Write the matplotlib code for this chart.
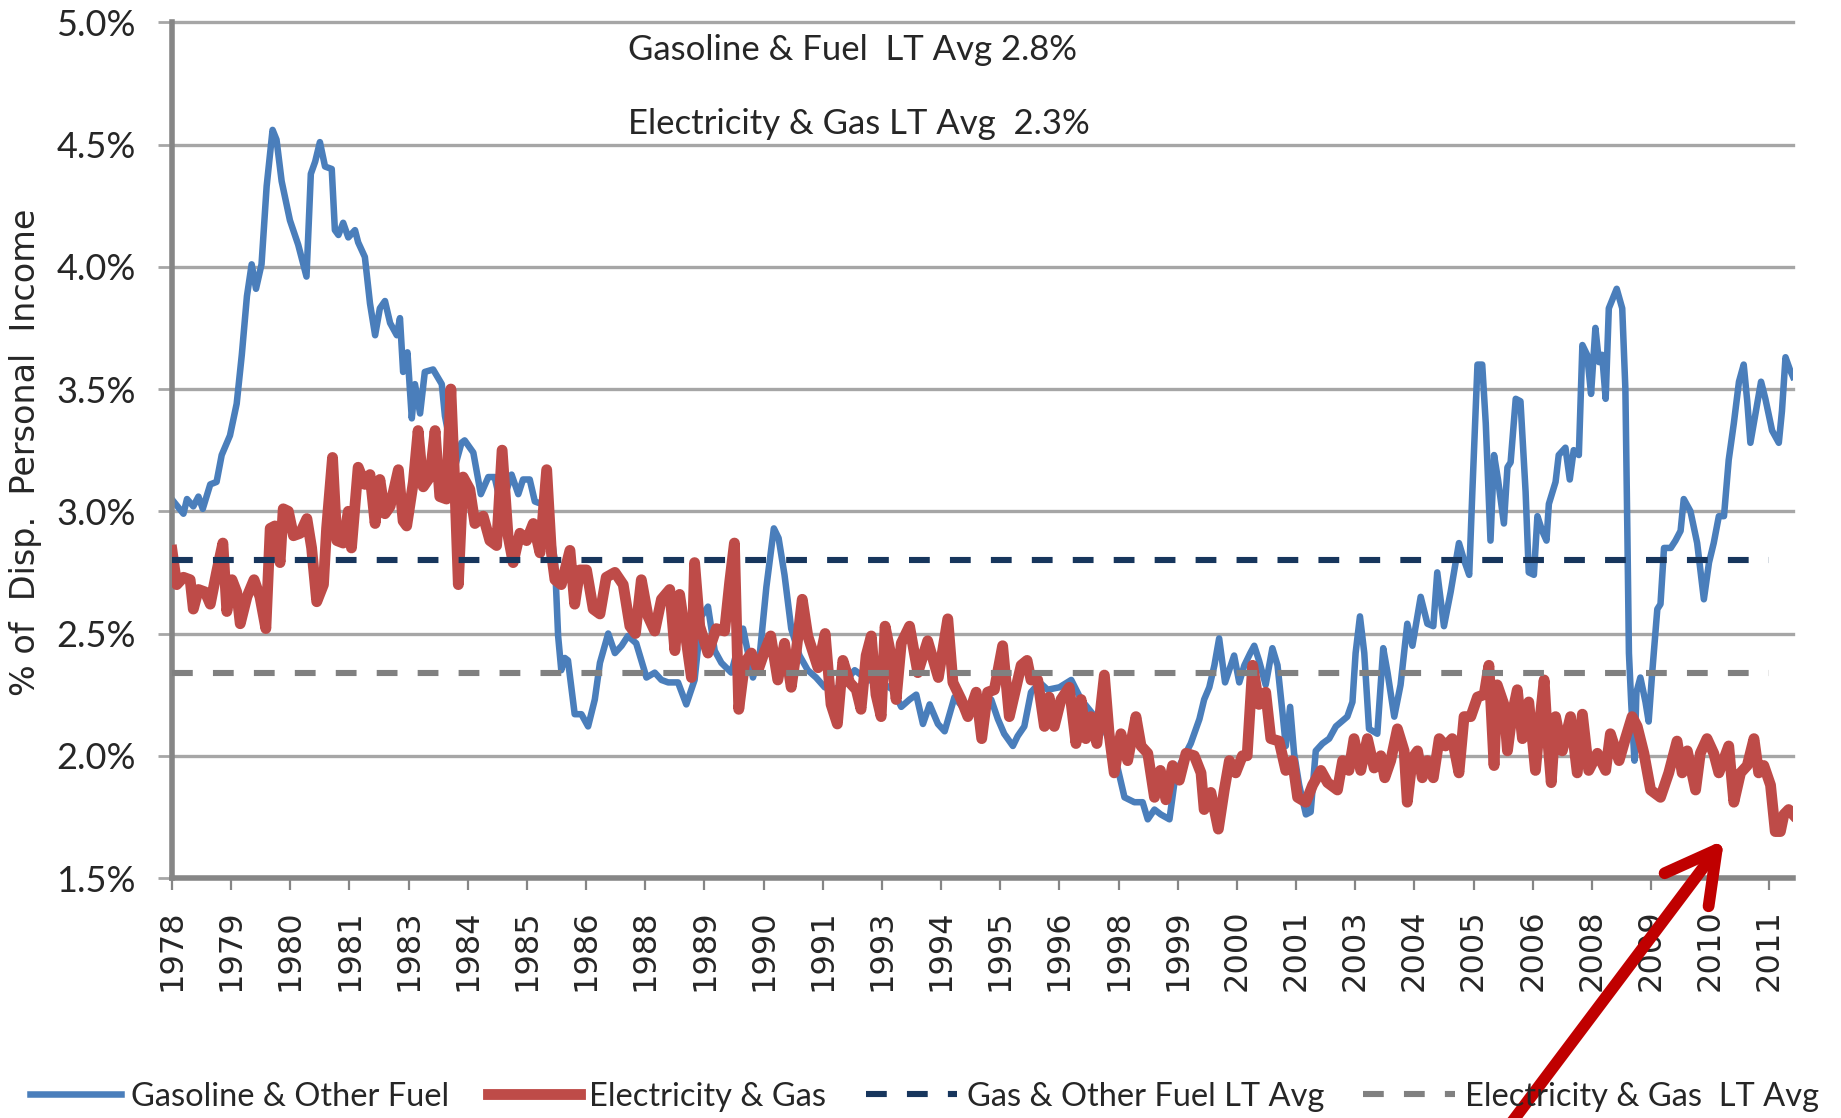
import matplotlib
matplotlib.use("Agg")
import matplotlib.pyplot as plt
from matplotlib.lines import Line2D
import numpy as np

# ---------------- data (months since Jan 1978, % of disposable personal income) -------------
gas_month = [0.4, 2.9, 3.8, 5.4, 6.7, 7.8, 9.7, 11.3, 12.6, 14.7, 16.4, 17.7, 19, 20.2, 21.3, 22.7,
             24, 25.5, 26.5, 27.8, 29.9, 32, 34.1, 35.2, 36.3, 37.5, 38.8, 40.5, 41.3, 42.2, 43.4,
             44.7, 46.4, 47.2, 48.9, 50.2, 51.5, 52.7, 54, 55.3, 57, 57.8, 58.6, 59.7, 60.8, 61.6,
             62.9, 64.1, 66.2, 68.4, 69.2, 71.7, 73.4, 74.2, 76.4, 78.3, 80.2, 81.8, 83.5, 86.1,
             87.8, 89, 90.7, 92, 93.7, 95.8, 97.1, 97.9, 98.7, 99.6, 100.4, 102.1, 103.8, 105.5,
             107.2, 108.5, 110.6, 112.3, 114, 115.6, 117.7, 119, 120.3, 122.4, 124.1, 125.8, 128.3,
             130.4, 132.5, 134.2, 135.9, 137.6, 139.3, 141.8, 144.8, 147.3, 149, 150.7, 152.6,
             153.8, 155.3, 157, 159.1, 161.2, 163.3, 165.5, 168, 170.5, 173.1, 176.4, 179.8, 182.8,
             184.9, 187, 188.7, 190.4, 192.1, 194.2, 195.9, 198.4, 200.9, 203.5, 205.1, 207.7,
             209.4, 211, 213.2, 214.4, 216.1, 217.8, 220, 222, 225, 228, 230.5, 233, 236.4, 238.9,
             241.5, 244, 246.1, 247.4, 249.1, 250.7, 252.9, 254.5, 256.7, 258.3, 260.5, 261.7, 263,
             264.3, 265.5, 267, 269.3, 270.6, 271.9, 273.4, 274.4, 275.6, 277.3, 279, 280.3, 281.6,
             282.4, 283.5, 284.5, 285.8, 287.5, 288.7, 290, 291.7, 293.4, 295.1, 298, 299.3, 300.1,
             301.2, 302.3, 303.5, 305.6, 307.1, 308.2, 309.9, 311.5, 313.2, 314.5, 316.6, 318.3,
             319.8, 320.8, 322.5, 324.2, 326.3, 327.6, 328.9, 329.7, 331, 332.2, 333.1, 334.3,
             335.2, 336.2, 337.7, 338.6, 339.4, 340.7, 341.9, 343.2, 344, 345.3, 346.2, 347.4,
             348.5, 349.1, 350.8, 351.6, 353.3, 354.4, 355.4, 356.7, 357.6, 358.8, 359.8, 360.9,
             361.8, 362.6, 363.5, 364.3, 366.3, 367.7, 368.5, 369, 369.4, 370, 370.8, 371.3, 372.3,
             373.6, 374.4, 375.3, 376.6, 377.4, 378.3, 380, 381.2, 382.5, 383.3, 385, 386.7, 388.4,
             389.7, 390.9, 392.2, 393.5, 394.7, 396, 397.3, 398.5, 399.4, 400.2, 401.5, 402.9, 404,
             405.7, 407.4, 408.2, 409.1, 410.2, 411]
gas_pct = [3.04, 2.99, 3.05, 3.02, 3.06, 3.01, 3.11, 3.12, 3.23, 3.31, 3.44, 3.64, 3.88, 4.01, 3.91,
           4.01, 4.33, 4.56, 4.52, 4.35, 4.19, 4.09, 3.96, 4.38, 4.43, 4.51, 4.41, 4.40, 4.15, 4.13,
           4.18, 4.12, 4.15, 4.10, 4.04, 3.85, 3.72, 3.83, 3.86, 3.77, 3.72, 3.79, 3.57, 3.65, 3.38,
           3.52, 3.40, 3.57, 3.58, 3.52, 3.39, 3.18, 3.28, 3.29, 3.24, 3.07, 3.14, 3.14, 3.02, 3.15,
           3.07, 3.13, 3.13, 3.04, 3.03, 2.95, 2.79, 2.49, 2.35, 2.40, 2.39, 2.17, 2.17, 2.12, 2.23,
           2.38, 2.50, 2.42, 2.45, 2.49, 2.46, 2.39, 2.32, 2.34, 2.31, 2.30, 2.30, 2.21, 2.31, 2.57,
           2.61, 2.43, 2.38, 2.34, 2.52, 2.32, 2.41, 2.69, 2.93, 2.89, 2.74, 2.52, 2.41, 2.35, 2.32,
           2.28, 2.27, 2.30, 2.35, 2.31, 2.30, 2.27, 2.20, 2.23, 2.25, 2.13, 2.21, 2.13, 2.10, 2.24,
           2.19, 2.20, 2.24, 2.23, 2.15, 2.09, 2.04, 2.08, 2.12, 2.26, 2.30, 2.27, 2.28, 2.31, 2.23,
           2.18, 2.11, 2.01, 1.83, 1.81, 1.81, 1.74, 1.78, 1.76, 1.74, 1.93, 2.00, 2.05, 2.15, 2.23,
           2.28, 2.37, 2.48, 2.30, 2.41, 2.30, 2.37, 2.42, 2.45, 2.39, 2.29, 2.44, 2.37, 2.17, 2.04,
           2.20, 2.01, 1.88, 1.76, 1.77, 2.02, 2.05, 2.07, 2.12, 2.16, 2.22, 2.42, 2.57, 2.42, 2.11,
           2.09, 2.44, 2.34, 2.16, 2.29, 2.54, 2.45, 2.65, 2.54, 2.53, 2.75, 2.53, 2.67, 2.87, 2.80,
           2.74, 3.08, 3.60, 3.60, 3.36, 2.88, 3.23, 3.13, 2.95, 3.18, 3.20, 3.46, 3.45, 3.08, 2.75,
           2.74, 2.98, 2.92, 2.88, 3.03, 3.12, 3.23, 3.26, 3.13, 3.25, 3.23, 3.68, 3.64, 3.48, 3.75,
           3.61, 3.64, 3.46, 3.83, 3.91, 3.83, 3.50, 2.92, 2.42, 2.21, 1.98, 2.26, 2.32, 2.22, 2.14,
           2.34, 2.60, 2.62, 2.85, 2.85, 2.88, 2.92, 3.05, 3.00, 2.87, 2.64, 2.79, 2.87, 2.98, 2.98,
           3.21, 3.36, 3.53, 3.60, 3.45, 3.28, 3.40, 3.53, 3.46, 3.33, 3.28, 3.41, 3.63, 3.58, 3.55]

elec_month = [0, 1.2, 2.9, 4.6, 5.4, 6.7, 8.4, 9.7, 11.3, 12.9, 13.9, 15.2, 16.4, 17.3, 19, 20.8,
              22.3, 23.8, 24.9, 26.1, 27.4, 28.2, 29.5, 30.8, 32.5, 34.2, 35.4, 36.7, 38.4, 39.2,
              40.7, 41.8, 43.4, 44.7, 45.5, 47.2, 48.9, 50.2, 51.5, 52.7, 54, 55.3, 57.4, 58.6,
              59.5, 61.2, 62.4, 63.7, 65.4, 66.7, 67.9, 69.6, 70.7, 71.7, 72.6, 73.8, 75.5, 76.8,
              78.9, 80.6, 82.3, 83.7, 85.2, 86.5, 88.2, 89.9, 91.6, 93.3, 95, 96.2, 97.1, 98.7,
              100.9, 102.1, 103.4, 105.1, 106.8, 108.5, 110.1, 112.3, 114.4, 116.1, 117.5, 119,
              120.7, 122.4, 124.1, 126.2, 127.5, 128.7, 130.4, 131.7, 132.5, 133.8, 135.9, 138,
              140.1, 141.4, 142.6, 143.7, 145.2, 146.9, 148.6, 150.1, 151.8, 153.6, 155.3, 157,
              158.3, 159.8, 161.2, 163.8, 165.6, 167.1, 168.7, 170.1, 171.8, 173.5, 174.7, 176,
              177.3, 178.5, 179.8, 180.8, 182.3, 183.6, 184.9, 187, 189.1, 191.6, 194.3, 196.7, 198,
              200.1, 201.8, 203.9, 205.3, 206.8, 208.5, 210.6, 212.3, 214, 215.3, 216.8, 217.8,
              219.5, 221.2, 222.4, 223.7, 225.4, 227.5, 229.2, 230.5, 231.7, 233, 234.5, 236.4,
              237.6, 238.9, 240.6, 242.3, 244.4, 245.7, 247.4, 249.1, 250.6, 252, 253.7, 255.4,
              257.1, 259.2, 260.9, 261.7, 263.4, 265.3, 266.8, 268.1, 269.7, 271.4, 272.6, 274,
              275.6, 277.3, 278.6, 280.7, 282.4, 284.1, 285.4, 287.5, 289.2, 291.3, 293, 295.5,
              296.8, 298.4, 299.7, 301.4, 303.1, 304.8, 306.5, 307.5, 309, 310.7, 312.4, 313.2,
              314.5, 315.8, 317, 318.3, 319.8, 321.3, 322.9, 324.6, 326.3, 327.6, 329.3, 331, 332.7,
              333.9, 335.2, 336, 337.7, 338.6, 339.8, 341.1, 342.4, 344, 345.7, 347, 347.9, 348.7,
              349.7, 350.8, 352.5, 354.6, 356.3, 357.6, 359.2, 361.4, 363.5, 364.7, 366.9, 368.5,
              370.2, 371.5, 373.2, 374.9, 377.4, 379.5, 381.6, 382.9, 384.2, 386.3, 387.5, 389.2,
              390.9, 392.2, 394.7, 396, 397.7, 399.4, 401.1, 402.3, 403.6, 405.3, 406.5, 407.8,
              408.7, 409.9, 411]
elec_pct = [2.84, 2.70, 2.73, 2.72, 2.60, 2.68, 2.67, 2.62, 2.75, 2.87, 2.59, 2.72, 2.67, 2.54, 2.65,
            2.72, 2.65, 2.52, 2.93, 2.94, 2.79, 3.01, 3.00, 2.90, 2.91, 2.97, 2.85, 2.63, 2.70, 2.93,
            3.22, 2.88, 2.87, 3.00, 2.85, 3.18, 3.11, 3.15, 2.95, 3.13, 2.99, 3.02, 3.17, 2.96, 2.94,
            3.12, 3.33, 3.10, 3.14, 3.33, 3.06, 3.05, 3.50, 3.11, 2.70, 3.14, 3.09, 2.95, 2.98, 2.88,
            2.86, 3.25, 2.90, 2.79, 2.91, 2.88, 2.95, 2.83, 3.17, 2.83, 2.72, 2.70, 2.84, 2.62, 2.76,
            2.76, 2.60, 2.58, 2.73, 2.75, 2.70, 2.53, 2.50, 2.72, 2.57, 2.51, 2.64, 2.68, 2.43, 2.66,
            2.47, 2.32, 2.79, 2.53, 2.42, 2.52, 2.51, 2.71, 2.87, 2.19, 2.38, 2.42, 2.35, 2.42, 2.49,
            2.31, 2.46, 2.28, 2.43, 2.64, 2.49, 2.36, 2.50, 2.21, 2.13, 2.39, 2.30, 2.27, 2.19, 2.41,
            2.49, 2.25, 2.16, 2.53, 2.41, 2.23, 2.46, 2.53, 2.34, 2.47, 2.32, 2.56, 2.30, 2.23, 2.16,
            2.26, 2.07, 2.26, 2.27, 2.45, 2.16, 2.28, 2.37, 2.39, 2.31, 2.31, 2.12, 2.24, 2.12, 2.23,
            2.28, 2.05, 2.23, 2.07, 2.16, 2.05, 2.33, 2.09, 1.93, 2.09, 1.98, 2.16, 2.04, 2.01, 1.83,
            1.94, 1.82, 1.96, 1.90, 2.01, 2.00, 1.93, 1.78, 1.85, 1.70, 1.86, 1.98, 1.93, 2.00, 2.00,
            2.37, 2.21, 2.26, 2.07, 2.06, 1.94, 1.98, 1.83, 1.81, 1.88, 1.94, 1.89, 1.86, 1.98, 1.94,
            2.07, 1.94, 2.07, 1.95, 2.00, 1.91, 1.98, 2.11, 2.02, 1.81, 1.99, 2.02, 1.91, 1.98, 1.91,
            2.07, 2.04, 2.07, 1.93, 2.16, 2.16, 2.24, 2.25, 2.37, 1.96, 2.29, 2.21, 2.02, 2.17, 2.27,
            2.07, 2.22, 1.94, 2.17, 2.31, 2.09, 1.89, 2.16, 2.02, 2.16, 1.93, 2.17, 1.94, 2.01, 1.94,
            2.09, 1.98, 2.07, 2.16, 2.12, 2.01, 1.86, 1.83, 1.93, 2.06, 1.93, 2.02, 1.86, 2.01, 2.07,
            2.01, 1.93, 2.04, 1.81, 1.93, 1.96, 2.07, 1.93, 1.96, 1.88, 1.69, 1.69, 1.76, 1.78, 1.76]

gas_lt_avg = 2.80
elec_lt_avg = 2.34
avg_span = [0, 405]          # months covered by the long-term average series

tick_months = list(range(0, 406, 15))
tick_labels = ["1978", "1979", "1980", "1981", "1983", "1984", "1985", "1986", "1988", "1989",
               "1990", "1991", "1993", "1994", "1995", "1996", "1998", "1999", "2000", "2001",
               "2003", "2004", "2005", "2006", "2008", "2009", "2010", "2011"]
y_ticks = [1.5, 2.0, 2.5, 3.0, 3.5, 4.0, 4.5, 5.0]

series_labels = ["Gasoline & Other Fuel", "Electricity & Gas",
                 "Gas & Other Fuel LT Avg", "Electricity & Gas  LT Avg"]
note_lines = ["Gasoline & Fuel  LT Avg 2.8%", "Electricity & Gas LT Avg  2.3%"]
y_title = "% of  Disp.  Personal  Income"

# ---------------- styling ----------------
BLUE = "#4A7EBB"
RED = "#BE4B48"
NAVY = "#17365D"
GREY_DASH = "#808080"
GRID = "#A6A6A6"
AXIS = "#868686"
TXT = "#262626"
NARROW = ["Lato", "DejaVu Sans"]
WIDE = ["DejaVu Sans"]

W, H = 1841, 1118
fig = plt.figure(figsize=(W / 100, H / 100), dpi=100)
L, R, T, B = 172, 1793, 22.3, 878
ax = fig.add_axes([L / W, 1 - B / H, (R - L) / W, (B - T) / H])

ax.set_xlim(0, 411)
ax.set_ylim(1.5, 5.0)

for v in y_ticks[1:]:
    ax.axhline(v, color=GRID, lw=2.4, zorder=0, clip_on=False)

BLUE_LW, RED_LW, DASH_LW = 4.7, 7.8, 4.4
ax.plot(gas_month, gas_pct, color=BLUE, lw=BLUE_LW, solid_joinstyle="round", zorder=2)
ax.plot(elec_month, elec_pct, color=RED, lw=RED_LW, solid_joinstyle="round", zorder=3)
ax.plot(avg_span, [gas_lt_avg, gas_lt_avg], color=NAVY, lw=DASH_LW, dashes=(3.4, 3.3),
        dash_capstyle="butt", zorder=4)
ax.plot(avg_span, [elec_lt_avg, elec_lt_avg], color=GREY_DASH, lw=DASH_LW, dashes=(3.4, 3.3),
        dash_capstyle="butt", zorder=4)

for s in ["top", "right"]:
    ax.spines[s].set_visible(False)
for s in ["left", "bottom"]:
    ax.spines[s].set_color(AXIS)
    ax.spines[s].set_linewidth(4.0)

ax.set_yticks(y_ticks)
ax.set_yticklabels([f"{v:.1f}%" for v in y_ticks])
ax.set_xticks(tick_months)
ax.set_xticklabels(tick_labels, rotation=90)
ax.tick_params(axis="y", direction="out", length=10, width=2, color=GRID, pad=16,
               labelsize=26, labelcolor=TXT)
ax.tick_params(axis="x", direction="out", length=8.5, width=1.6, color=AXIS, pad=14,
               labelsize=23, labelcolor=TXT)
for lab in ax.get_yticklabels():
    lab.set_family(NARROW)
for lab in ax.get_xticklabels():
    lab.set_family(WIDE)

fig.text(26 / W, 1 - 452 / H, y_title, rotation=90, ha="center", va="center",
         fontsize=24, family=WIDE, color=TXT)

fig.text(628 / W, 1 - 50 / H, note_lines[0], ha="left", va="center", fontsize=25,
         family=NARROW, color=TXT)
fig.text(628 / W, 1 - 124 / H, note_lines[1], ha="left", va="center", fontsize=25,
         family=NARROW, color=TXT)

handles = [Line2D([], [], color=BLUE, lw=BLUE_LW),
           Line2D([], [], color=RED, lw=RED_LW),
           Line2D([], [], color=NAVY, lw=DASH_LW, dashes=(3.4, 3.3), dash_capstyle="butt"),
           Line2D([], [], color=GREY_DASH, lw=DASH_LW, dashes=(3.4, 3.3), dash_capstyle="butt")]
fig.legend(handles, series_labels, loc="center", bbox_to_anchor=(0.502, 0.019), ncol=4,
           frameon=False, prop={"family": NARROW, "size": 23.5}, handlelength=2.8,
           handletextpad=0.3, columnspacing=1.2, labelcolor=TXT, borderpad=0, borderaxespad=0)

# red annotation arrow pointing at the recent low in Electricity & Gas
ax.annotate("", xy=(1724, H - 840), xycoords="figure pixels",
            xytext=(1500, -20), textcoords="figure pixels",
            arrowprops=dict(arrowstyle="->,head_length=1.0,head_width=0.55", color="#C00000",
                            lw=8.5, mutation_scale=36, shrinkA=0, shrinkB=0),
            annotation_clip=False, zorder=10)

fig.savefig("out.png", dpi=100)
